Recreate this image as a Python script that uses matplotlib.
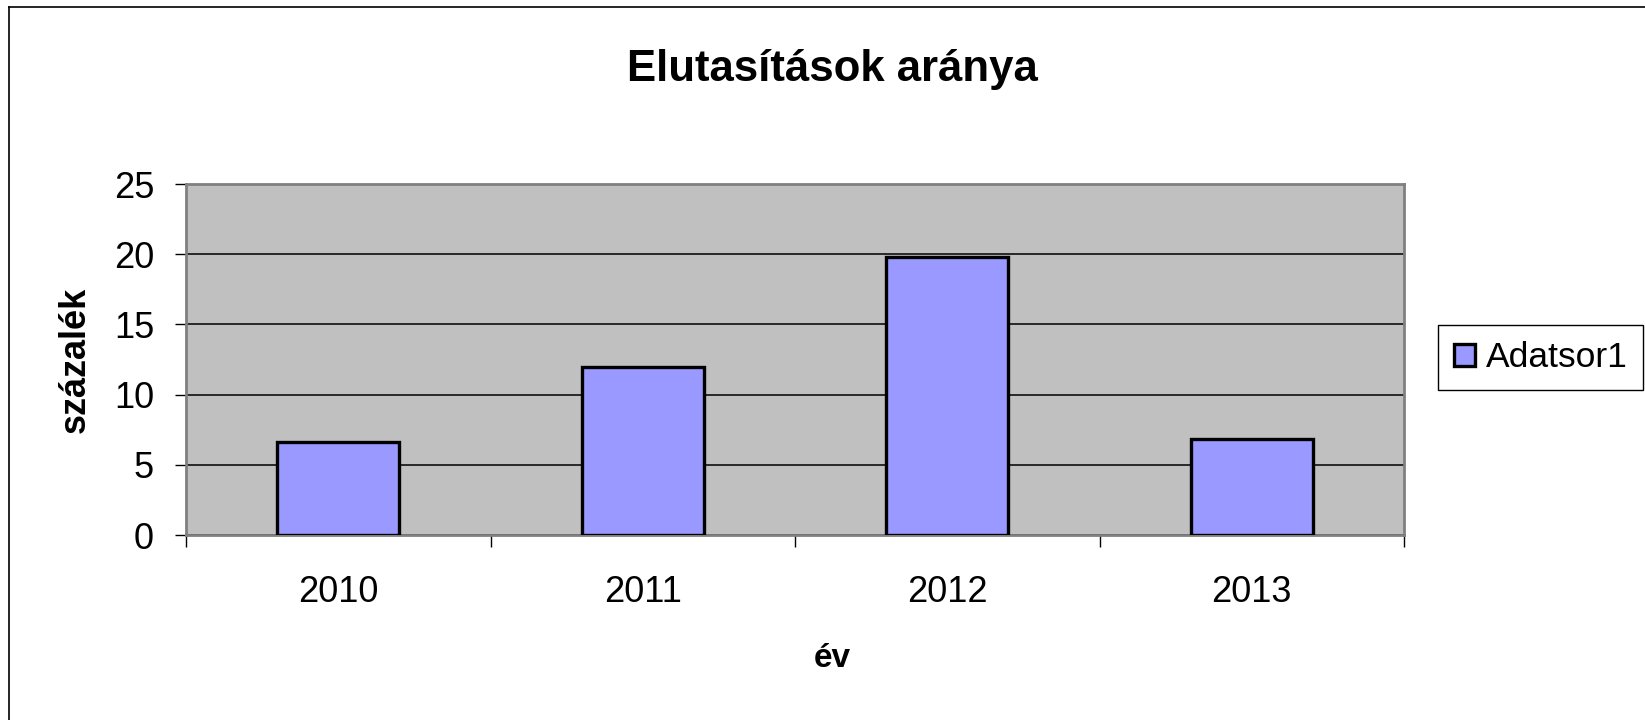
import numpy as np
import matplotlib
matplotlib.use('Agg')
import matplotlib.pyplot as plt
from matplotlib.lines import Line2D

plt.rcParams['font.family'] = ['Liberation Sans', 'DejaVu Sans']

# adatok
evek = ['2010', '2011', '2012', '2013']
szazalek = [6.6, 11.95, 19.8, 6.85]
sorozat = 'Adatsor1'

fig = plt.figure(figsize=(16.45, 7.2), dpi=100)
ax = fig.add_axes([0.1131, 0.2569, 0.7404, 0.4875])

x = np.arange(len(evek))
bars = ax.bar(x, szazalek, width=0.4, color='#9999FF', edgecolor='black',
              linewidth=2.4, label=sorozat, zorder=3)

ax.set_facecolor('#C0C0C0')
ax.set_xlim(-0.5, len(evek) - 0.5)
ax.set_ylim(0, 25)
ax.set_yticks([0, 5, 10, 15, 20, 25])
ax.yaxis.grid(True, color='black', linewidth=1.1, zorder=1)
ax.set_axisbelow(True)

for s in ax.spines.values():
    s.set_color('#808080')
    s.set_linewidth(2)

# kategoria hatarok = minor tick
ax.set_xticks(x)
ax.set_xticklabels(evek)
ax.set_xticks(np.arange(-0.5, len(evek), 1.0), minor=True)
ax.tick_params(axis='x', which='major', length=0, pad=29, labelsize=26)
ax.tick_params(axis='x', which='minor', length=8.5, width=1, color='black', direction='out')
ax.tick_params(axis='y', length=8, width=1, color='black', pad=15, labelsize=26)

ax.set_ylabel('százalék', fontsize=26, fontweight='bold')
ax.yaxis.set_label_coords(-0.0911, 0.5)
ax.yaxis.label.set_va('center')
ax.set_xlabel('év', fontsize=24, fontweight='bold')
ax.xaxis.set_label_coords(0.531, -0.353)
ax.xaxis.label.set_va('center')

fig.text(0.5058, 0.904, 'Elutasítások aránya', fontsize=31.5, fontweight='bold',
         ha='center', va='center')

leg = fig.legend(handles=[bars], labels=[sorozat], loc='center left',
                 bbox_to_anchor=(0.874, 0.503), fontsize=25.5, fancybox=False,
                 edgecolor='black', framealpha=1, borderaxespad=0,
                 handlelength=0.6, handleheight=0.6, handletextpad=0.3,
                 borderpad=0.45)
leg.get_frame().set_linewidth(1)

# kulso keret (csak bal es felso latszik)
fig.add_artist(Line2D([9 / 1645, 9 / 1645], [0, 1 - 7 / 720], color='black', linewidth=1.2,
                      transform=fig.transFigure))
fig.add_artist(Line2D([9 / 1645, 1], [1 - 7 / 720, 1 - 7 / 720], color='black', linewidth=1.2,
                      transform=fig.transFigure))

fig.savefig('out.png', dpi=100)
